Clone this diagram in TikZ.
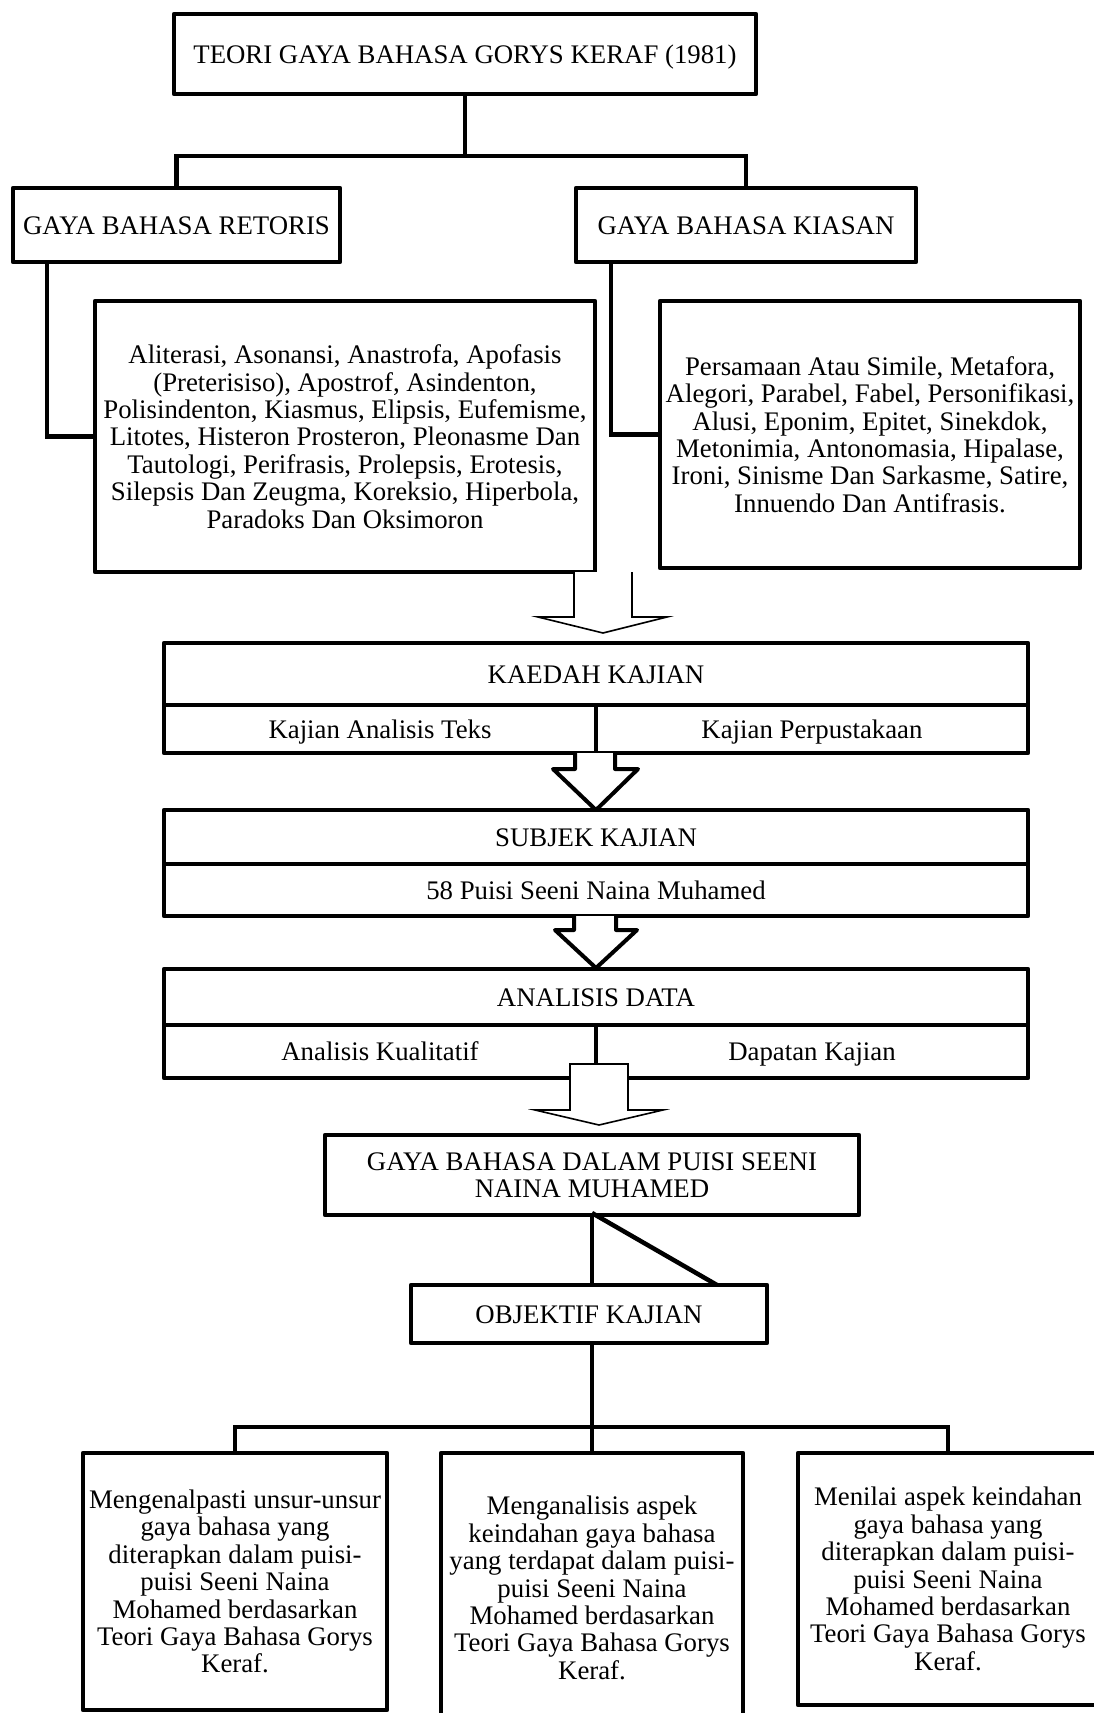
\documentclass[tikz,border=0pt]{standalone}
\usepackage{fontspec}
\setmainfont{Liberation Serif}
\begin{document}
\begin{tikzpicture}[x=1pt,y=-1pt,
  box/.style={draw, line width=4.5pt, line join=round, fill=white, inner sep=0pt, outer sep=0pt, align=center,
    font=\fontsize{26.8pt}{27.4pt}\selectfont},
  single/.style={box, align=none, text height=20pt, text depth=2pt},
  conn/.style={line width=4.5pt, line cap=rect},
  hollowarrow/.style={draw, line width=1.6pt, fill=white, line join=miter},
  thickarrow/.style={draw, line width=4pt, fill=white, line join=round}]
\useasboundingbox (0,0) rectangle (1094,1713);
\clip (0,0) rectangle (1094,1713);

% top level
\node[single, minimum width=582pt, minimum height=80pt] (teori) at (465,54) {TEORI GAYA BAHASA GORYS KERAF (1981)};
\node[single, minimum width=327pt, minimum height=74pt] (retoris) at (176.5,225) {GAYA BAHASA RETORIS};
\node[single, minimum width=340pt, minimum height=74pt] (kiasan) at (746,225) {GAYA BAHASA KIASAN};
\coordinate (j1) at (465,156);
\draw[conn] (teori.south) -- (j1);
\draw[conn] (retoris.north) |- (j1) -| (kiasan.north);

% lists
\node[box, minimum width=500pt, minimum height=271pt] (ali) at (345,436.5) {Aliterasi, Asonansi, Anastrofa, Apofasis\\(Preterisiso), Apostrof, Asindenton,\\Polisindenton, Kiasmus, Elipsis, Eufemisme,\\Litotes, Histeron Prosteron, Pleonasme Dan\\Tautologi, Perifrasis, Prolepsis, Erotesis,\\Silepsis Dan Zeugma, Koreksio, Hiperbola,\\Paradoks Dan Oksimoron};
\node[box, minimum width=420pt, minimum height=267pt] (pers) at (870,434.5) {Persamaan Atau Simile, Metafora,\\Alegori, Parabel, Fabel, Personifikasi,\\Alusi, Eponim, Epitet, Sinekdok,\\Metonimia, Antonomasia, Hipalase,\\Ironi, Sinisme Dan Sarkasme, Satire,\\Innuendo Dan Antifrasis.};
\draw[conn] ([xshift=34pt]retoris.south west) |- (ali.west);
\draw[conn] ([xshift=35pt]kiasan.south west) |- (pers.west);

% arrow 1 (hollow)
\draw[hollowarrow] (574,572) -- (574,617) -- (538,617) -- (603,633) -- (667,617) -- (632,617) -- (632,572);

% KAEDAH KAJIAN
\node[single, minimum width=864pt, minimum height=62pt] (kaedah) at (596,674) {KAEDAH KAJIAN};
\node[single, minimum width=432pt, minimum height=48pt] (kaedahL) at (380,729) {Kajian Analisis Teks};
\node[single, minimum width=432pt, minimum height=48pt] (kaedahR) at (812,729) {Kajian Perpustakaan};

% arrow 2 (thick)
\draw[thickarrow] (575,753) -- (575,769) -- (553,769) -- (596,810) -- (638,769) -- (615,769) -- (615,753);

% SUBJEK KAJIAN
\node[single, minimum width=864pt, minimum height=54pt] (subjek) at (596,837) {SUBJEK KAJIAN};
\node[single, minimum width=864pt, minimum height=52pt] (subjekB) at (596,890) {58 Puisi Seeni Naina Muhamed};

% arrow 3 (thick)
\draw[thickarrow] (574,916) -- (574,930) -- (555,930) -- (596,968) -- (637,930) -- (616,930) -- (616,916);

% ANALISIS DATA
\node[single, minimum width=864pt, minimum height=56pt] (analisis) at (596,997) {ANALISIS DATA};
\node[single, minimum width=432pt, minimum height=53pt] (analisisL) at (380,1051.5) {Analisis Kualitatif};
\node[single, minimum width=432pt, minimum height=53pt] (analisisR) at (812,1051.5) {Dapatan Kajian};

% arrow 4 (hollow)
\draw[hollowarrow] (570,1064) -- (628,1064) -- (628,1110) -- (663,1110) -- (599,1125) -- (535,1110) -- (570,1110) -- cycle;

% GAYA BAHASA DALAM PUISI
\node[box, minimum width=534pt, minimum height=80pt] (gaya) at (592,1175) {GAYA BAHASA DALAM PUISI SEENI\\NAINA MUHAMED};
\node[single, minimum width=356pt, minimum height=58pt] (objektif) at (589,1314) {OBJEKTIF KAJIAN};
\draw[conn] (gaya.south) -- (gaya.south |- objektif.north);
\draw[line width=4.5pt] ([yshift=2pt]gaya.south) -- ([xshift=-50pt]objektif.north east);

% objectives
\node[box, minimum width=304pt, minimum height=257pt] (obj1) at (235,1581.5) {Mengenalpasti unsur-unsur\\gaya bahasa yang\\diterapkan dalam puisi-\\puisi Seeni Naina\\Mohamed berdasarkan\\Teori Gaya Bahasa Gorys\\Keraf.};
\node[box, minimum width=302pt, minimum height=270pt] (obj2) at (592,1588) {Menganalisis aspek\\keindahan gaya bahasa\\yang terdapat dalam puisi-\\puisi Seeni Naina\\Mohamed berdasarkan\\Teori Gaya Bahasa Gorys\\Keraf.};
\node[box, minimum width=300pt, minimum height=252pt] (obj3) at (948,1579) {Menilai aspek keindahan\\gaya bahasa yang\\diterapkan dalam puisi-\\puisi Seeni Naina\\Mohamed berdasarkan\\Teori Gaya Bahasa Gorys\\Keraf.};
\coordinate (j2) at (592,1427);
\draw[conn] (gaya.south |- objektif.south) -- (obj2.north);
\draw[conn] (obj1.north) |- (j2) -| (obj3.north);
\end{tikzpicture}
\end{document}
